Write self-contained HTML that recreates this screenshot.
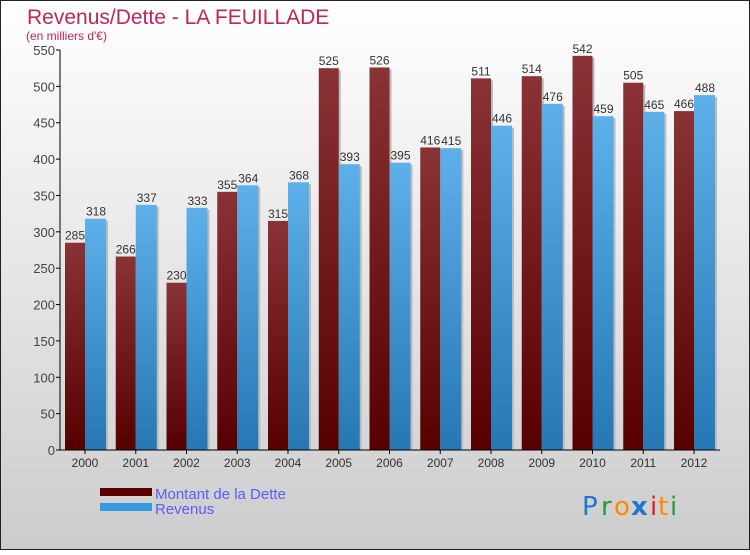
<!DOCTYPE html>
<html><head><meta charset="utf-8"><style>
html,body{margin:0;padding:0;}
body{width:750px;height:550px;overflow:hidden;font-family:"Liberation Sans",sans-serif;}
</style></head><body>
<svg id="c" width="750" height="550" xmlns="http://www.w3.org/2000/svg" font-family="'Liberation Sans',sans-serif">
<defs>
<linearGradient id="bg" x1="0" y1="0" x2="0" y2="1"><stop offset="0" stop-color="#ffffff"/><stop offset="1" stop-color="#cccccc"/></linearGradient>
<linearGradient id="gd" x1="0" y1="0" x2="0" y2="1"><stop offset="0" stop-color="#8a3336"/><stop offset="1" stop-color="#560000"/></linearGradient>
<linearGradient id="gr" x1="0" y1="0" x2="0" y2="1"><stop offset="0" stop-color="#5db0ea"/><stop offset="1" stop-color="#2677b3"/></linearGradient>
</defs>
<rect x="0.5" y="0.5" width="749" height="549" fill="url(#bg)" stroke="#222"/>
<text x="27" y="24" font-size="21" fill="#c0245a">Revenus/Dette - LA FEUILLADE</text>
<text x="26" y="40" font-size="12" fill="#c0245a">(en milliers d'€)</text>
<g id="plot"></g>
<rect x="100" y="488" width="52" height="8" fill="#5a0000"/>
<rect x="100" y="503" width="52" height="8" fill="#3399e0"/>
<text x="155" y="499" font-size="15" fill="#5b5bff">Montant de la Dette</text>
<text x="155" y="514" font-size="15" fill="#5b5bff">Revenus</text>
<g font-size="26" font-family="'DejaVu Sans',sans-serif">
<text x="582" y="515" fill="#1e78d0">P</text><text x="601" y="515" fill="#2a9a3a">r</text><text x="614" y="515" fill="#ff8a00">o</text><text x="631" y="515" fill="#1e78d0" font-weight="bold">x</text><text x="650" y="515" fill="#e02020">i</text><text x="658" y="515" fill="#ff8a00">t</text><text x="670" y="515" fill="#2a9a3a">i</text>
</g>
</svg>
<script>
const years=["2000","2001","2002","2003","2004","2005","2006","2007","2008","2009","2010","2011","2012"];
const dette=[285,266,230,355,315,525,526,416,511,514,542,505,466];
const revenus=[318,337,333,364,368,393,395,415,446,476,459,465,488];
const ticks=[0,50,100,150,200,250,300,350,400,450,500,550];
const NS="http://www.w3.org/2000/svg";
const g=document.getElementById('plot');
const y0=450,ppu=400/550,x0=60,step=50.75,first=85;
const yS=v=>y0-v*ppu, xS=i=>first+i*step;
function mk(t,a,txt){const e=document.createElementNS(NS,t);for(const k in a)e.setAttribute(k,a[k]);if(txt!==undefined)e.textContent=txt;g.appendChild(e);return e;}
ticks.forEach(t=>{
 const l=mk('line',{x1:x0-4,x2:x0,y1:yS(t),y2:yS(t),stroke:'#000'});
 
 
 const tx=mk('text',{x:x0-5,y:yS(t)+5,'font-size':13,fill:'#444','text-anchor':'end'},t);
 
 
});
years.forEach((yr,i)=>{
 const cx=xS(i);
 const s1=mk('rect',{x:cx-18,y:yS(dette[i])+2,width:20,height:dette[i]*ppu-2,fill:'#bbb'});
 
 
 const b1=mk('rect',{x:cx-20,y:yS(dette[i]),width:20,height:dette[i]*ppu,fill:'url(#gd)'});
 
 
 const s2=mk('rect',{x:cx+2,y:yS(revenus[i])+2,width:21,height:revenus[i]*ppu-2,fill:'#bbb'});
 
 
 const b2=mk('rect',{x:cx,y:yS(revenus[i]),width:21,height:revenus[i]*ppu,fill:'url(#gr)'});
 
 
 const v1=mk('text',{x:cx-10,y:yS(dette[i])-3,'font-size':12,fill:'#333','text-anchor':'middle'},dette[i]);
 
 
 const v2=mk('text',{x:cx+11,y:yS(revenus[i])-3,'font-size':12,fill:'#333','text-anchor':'middle'},revenus[i]);
 
 
 const xl=mk('text',{x:cx,y:467,'font-size':12,fill:'#333','text-anchor':'middle'},yr);
 
 
 const xt=mk('line',{x1:cx,x2:cx,y1:y0,y2:y0+4,stroke:'#000'});
 
 
});
const ya=mk('line',{x1:x0,x2:x0,y1:yS(550),y2:y0,stroke:'#000'});


const xa=mk('line',{x1:x0,x2:720,y1:y0,y2:y0,stroke:'#000'});


</script>
</body></html>
